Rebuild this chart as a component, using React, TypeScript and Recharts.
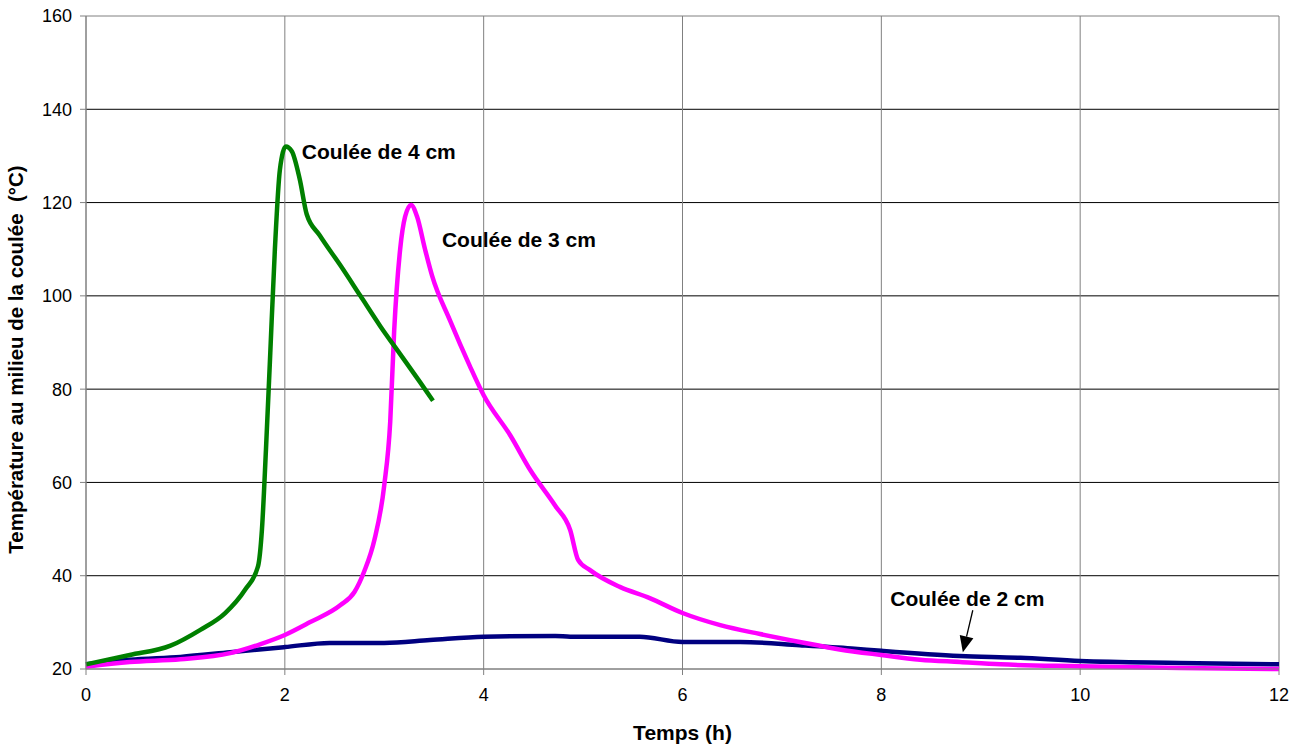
import React from 'react'
import {
  LineChart,
  Line,
  XAxis,
  YAxis,
  CartesianGrid,
  ReferenceArea,
  ReferenceDot,
  ReferenceLine,
} from 'recharts'

// temps (h) / température (°C)
const coulee4cmTime = [0, 0.44, 0.85, 1.15, 1.4, 1.6, 1.73, 1.77, 1.81, 1.85, 1.9, 1.95, 2.01, 2.07, 2.15, 2.22, 2.35, 2.56, 2.76, 2.96, 3.16, 3.36, 3.49]
const coulee4cmTemp = [21, 23, 25, 28.4, 32, 37, 42, 50, 67, 86, 110, 127, 132, 131, 125, 117.5, 113, 106.5, 100, 93.5, 87.5, 81.5, 77.5]

const coulee3cmTime = [0, 0.44, 0.95, 1.45, 1.75, 2.0, 2.25, 2.56, 2.7, 2.8, 2.9, 3.0, 3.06, 3.1, 3.16, 3.21, 3.27, 3.33, 3.41, 3.48, 3.66, 3.86, 4.0, 4.27, 4.47, 4.72, 4.87, 4.95, 5.07, 5.37, 5.67, 6.0, 6.38, 6.78, 7.18, 7.58, 8.0, 8.39, 8.79, 9.2, 10, 11, 12]
const coulee3cmTemp = [20.5, 21.5, 22.1, 23.4, 25.3, 27.3, 30, 33.7, 36.5, 41, 47.6, 59.4, 73, 92.6, 110, 117, 119.5, 117, 110, 104.4, 94.8, 85, 78.7, 70, 62.6, 55, 49.8, 43.4, 41.2, 37.6, 35.2, 32, 29.4, 27.5, 25.8, 24.2, 23, 22, 21.5, 21, 20.6, 20.2, 20]

const coulee2cmTime = [0, 0.44, 0.95, 1.45, 2.0, 2.45, 3.0, 3.46, 4.0, 4.72, 4.87, 5.57, 6.0, 6.58, 7.18, 7.7, 8.0, 8.79, 9.4, 10, 11, 12]
const coulee2cmTemp = [21, 22, 22.6, 23.6, 24.7, 25.6, 25.6, 26.2, 26.9, 27.1, 26.9, 26.9, 25.8, 25.8, 25.1, 24.4, 23.9, 22.8, 22.4, 21.7, 21.3, 21]

const xTicks = [0, 2, 4, 6, 8, 10, 12]
const yTicks = [20, 40, 60, 80, 100, 120, 140, 160]

const toPoints = (t: number[], v: number[]) => t.map((x, i) => ({ t: x, v: v[i] }))

const data4 = toPoints(coulee4cmTime, coulee4cmTemp)
const data3 = toPoints(coulee3cmTime, coulee3cmTemp)
const data2 = toPoints(coulee2cmTime, coulee2cmTemp)

const font = '"Liberation Sans", Arial, sans-serif'

const annotation = (text: string) => (props: any) => (
  <text
    x={props.cx}
    y={props.cy}
    fontFamily={font}
    fontWeight="bold"
    fontSize={21}
    fill="#000"
    dominantBaseline="middle"
  >
    {text}
  </text>
)

function Arrow(props: any) {
  const { x1, y1, x2, y2 } = props
  const ang = Math.atan2(y2 - y1, x2 - x1)
  const len = 16
  const w = 7
  const bx = x2 - len * Math.cos(ang)
  const by = y2 - len * Math.sin(ang)
  const px = -Math.sin(ang) * w
  const py = Math.cos(ang) * w
  return (
    <g>
      <line x1={x1} y1={y1} x2={bx} y2={by} stroke="#000" strokeWidth={1.3} />
      <polygon points={`${x2},${y2} ${bx + px},${by + py} ${bx - px},${by - py}`} fill="#000" />
    </g>
  )
}

function YLabel(props: any) {
  const vb = props.viewBox
  return (
    <text
      transform={`translate(${vb.x + 18}, ${vb.y + vb.height / 2 + 17}) rotate(-90)`}
      textAnchor="middle"
      dominantBaseline="middle"
      fontFamily={font}
      fontWeight="bold"
      fontSize={20.5}
      fill="#000"
      style={{ whiteSpace: 'pre' }}
    >
      Température au milieu de la coulée  (°C)
    </text>
  )
}

export default function App() {
  return (
    <div style={{ position: 'absolute', left: 0, top: 0, width: 1303, height: 744, background: '#fff' }}>
      <LineChart width={1303} height={744} margin={{ top: 16, right: 24, left: 0, bottom: 0 }}>
        <CartesianGrid vertical={false} stroke="#000" strokeWidth={1} horizontalValues={[40, 60, 80, 100, 120, 140]} />
        <CartesianGrid horizontal={false} stroke="#808080" strokeWidth={1} verticalValues={[2, 4, 6, 8, 10]} />
        <XAxis
          type="number"
          dataKey="t"
          domain={[0, 12]}
          ticks={xTicks}
          height={75}
          stroke="#808080"
          tickSize={6}
          tickMargin={13}
          tick={{ fill: '#000', fontSize: 18, fontFamily: font }}
          label={{
            value: 'Temps (h)',
            position: 'insideBottom',
            offset: 4,
            style: { fill: '#000', fontSize: 21, fontWeight: 'bold', fontFamily: font },
          }}
        />
        <YAxis
          type="number"
          dataKey="v"
          domain={[20, 160]}
          ticks={yTicks}
          width={86}
          stroke="#808080"
          tickSize={6}
          tickMargin={8}
          tick={{ fill: '#000', fontSize: 18, fontFamily: font }}
          label={<YLabel />}
        />
        <ReferenceArea x1={0} x2={12} y1={20} y2={160} fill="none" stroke="#808080" strokeWidth={1} ifOverflow="visible" />
        <Line data={data2} dataKey="v" type="monotone" stroke="#000080" strokeWidth={4.5} dot={false} isAnimationActive={false} />
        <Line data={data3} dataKey="v" type="monotone" stroke="#ff00ff" strokeWidth={4.5} dot={false} isAnimationActive={false} />
        <Line data={data4} dataKey="v" type="monotone" stroke="#008000" strokeWidth={4.5} dot={false} isAnimationActive={false} />
        <ReferenceDot x={2.17} y={130.6} r={0} shape={annotation('Coulée de 4 cm')} ifOverflow="visible" />
        <ReferenceDot x={3.58} y={111.7} r={0} shape={annotation('Coulée de 3 cm')} ifOverflow="visible" />
        <ReferenceDot x={8.09} y={34.6} r={0} shape={annotation('Coulée de 2 cm')} ifOverflow="visible" />
        <ReferenceLine
          segment={[{ x: 8.92, y: 32.6 }, { x: 8.82, y: 23.6 }]}
          shape={Arrow}
          ifOverflow="visible"
        />
      </LineChart>
    </div>
  )
}
